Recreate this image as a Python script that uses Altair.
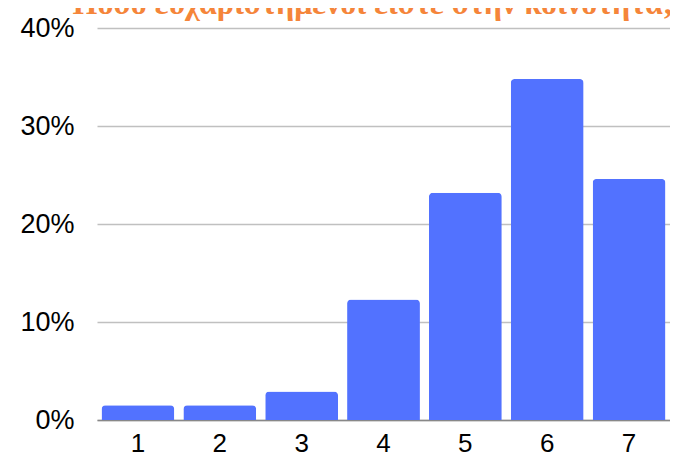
import altair as alt
import pandas as pd

categories = ["1", "2", "3", "4", "5", "6", "7"]
shares = [1.5, 1.5, 2.9, 12.3, 23.2, 34.8, 24.6]
title_text = "Πόσο ευχαριστημένοι είστε στην κοινότητα;"

df = pd.DataFrame({"cat": categories, "pct": [v / 100 for v in shares]})

bars = alt.Chart(df).mark_bar(
    color="#5272ff", cornerRadiusTopLeft=4, cornerRadiusTopRight=4
).encode(
    x=alt.X("cat:N", sort=categories, title=None,
            scale=alt.Scale(paddingInner=0.11, paddingOuter=0.055),
            axis=alt.Axis(labelAngle=0, labelFontSize=26, labelFont="Liberation Sans",
                          labelColor="#000", ticks=False, domain=True, domainColor="#888888",
                          domainWidth=1.5, labelPadding=10)),
    y=alt.Y("pct:Q", title=None,
            scale=alt.Scale(domain=[0, 0.4]),
            axis=alt.Axis(format=".0%", values=[0, 0.1, 0.2, 0.3, 0.4], labelFontSize=27,
                          labelFont="Liberation Sans", labelColor="#000", ticks=False,
                          domain=False, gridColor="#c0c0c0", gridWidth=1.5, labelPadding=23)),
)

title = alt.Chart(pd.DataFrame({"t": [title_text]})).mark_text(
    font="Liberation Sans Narrow", fontWeight="bold", fontSize=32, color="#f5853a",
    baseline="alphabetic", align="center"
).encode(
    text="t:N",
    x=alt.value(276),
    y=alt.value(-14),
)

chart = alt.layer(bars, title).properties(
    width=573, height=392,
    autosize=alt.AutoSizeParams(type="none"),
    padding={"left": 89, "top": 20, "right": 0, "bottom": 36},
).configure_view(stroke=None)

chart.save("out.html", embed_options={"renderer": "svg", "actions": False})
